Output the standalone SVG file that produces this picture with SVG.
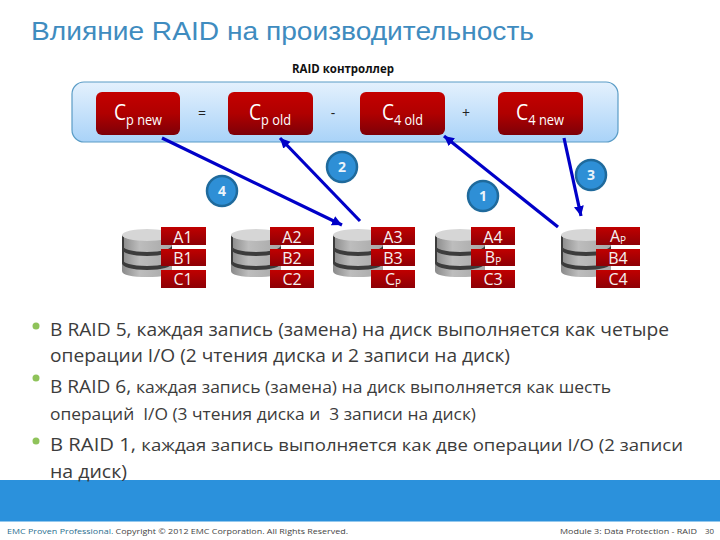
<svg xmlns="http://www.w3.org/2000/svg" width="720" height="540" viewBox="0 0 720 540">
<style>
.b{font-family:"Open Sans","Liberation Sans",sans-serif;font-size:18px;fill:#3c3c3c;white-space:pre}
.s{font-size:16.5px}
.n{font-family:"Open Sans","Liberation Sans",sans-serif;font-size:21px;fill:#fff}
.n tspan{font-size:14px}
.o{font-family:"Open Sans","Liberation Sans",sans-serif;font-size:14px;fill:#222;text-anchor:middle}
.c{font-family:"Open Sans","Liberation Sans",sans-serif;font-size:16px;fill:#f6f0f0;text-anchor:middle}
.c tspan{font-size:10px}
.d{font-family:"Open Sans","Liberation Sans",sans-serif;font-size:14px;font-weight:700;fill:#eaf4fb;text-anchor:middle}
.f{font-family:"Open Sans","Liberation Sans",sans-serif;font-size:8px;fill:#444}
.ar{stroke:#0000c8;stroke-width:3.2;fill:none;marker-end:url(#a)}
.bl{fill:url(#gb);rx:6px}
.cd{fill:url(#gc)}
.bd{fill:#2e8fd6;stroke:#1f6a9c;stroke-width:2.5}
.dot{fill:#8fc35a}
</style>
<defs>
<linearGradient id="gp" x1="0" y1="0" x2="0" y2="1"><stop offset="0" stop-color="#e4f1fd"/><stop offset="1" stop-color="#a9d3f8"/></linearGradient>
<linearGradient id="gb" x1="0" y1="0" x2="0" y2="1"><stop offset="0" stop-color="#c40000"/><stop offset="0.5" stop-color="#b00000"/><stop offset="1" stop-color="#7d0008"/></linearGradient>
<linearGradient id="gc" x1="0" y1="0" x2="0" y2="1"><stop offset="0" stop-color="#c00000"/><stop offset="1" stop-color="#8e0006"/></linearGradient>
<linearGradient id="gd" x1="0" y1="0" x2="1" y2="0"><stop offset="0" stop-color="#8a8a8a"/><stop offset="0.35" stop-color="#bdbdbd"/><stop offset="1" stop-color="#a8a8a8"/></linearGradient>
<marker id="a" markerUnits="userSpaceOnUse" markerWidth="12" markerHeight="12" refX="10" refY="5" orient="auto"><path d="M0 0L10 5L0 10z" fill="#0000c8"/></marker>
<g id="disk">
<path d="M0 6V42C0 46 10 48 25 48S50 46 50 42V6z" fill="url(#gd)"/>
<path d="M0 16C0 20 10 23 25 23S50 20 50 16V20C50 24 40 27 25 27S0 24 0 20z" fill="#3c3c3c"/>
<path d="M0 30C0 34 10 37 25 37S50 34 50 30V34C50 38 40 41 25 41S0 38 0 34z" fill="#3c3c3c"/>
<path d="M0 6V34L2 36V8z" fill="#3c3c3c"/>
<ellipse cx="25" cy="6" rx="25" ry="6" fill="#d6d6d6"/>
</g>
</defs>
<rect width="720" height="540" fill="#fff"/>
<text x="31" y="40" font-family="'Liberation Sans',sans-serif" font-size="26" fill="#3f8cbf" textLength="503" lengthAdjust="spacingAndGlyphs">Влияние RAID на производительность</text>
<text x="343" y="73" font-family="'Open Sans','Liberation Sans',sans-serif" font-size="11.5" font-weight="700" fill="#111" text-anchor="middle" textLength="102" lengthAdjust="spacingAndGlyphs">RAID контроллер</text>

<g id="controller">
<rect x="72" y="82" width="546" height="60" rx="12" fill="url(#gp)" stroke="#5a9cc6" stroke-width="1.2"/>
<text class="o" x="202" y="118">=</text>
<text class="o" x="333" y="118">-</text>
<text class="o" x="466" y="118">+</text>
</g>
<g id="cp-new"><rect class="bl" x="96" y="92" width="84" height="43"/><text class="n" x="114" y="120" textLength="48" lengthAdjust="spacingAndGlyphs">C<tspan dy="5">p new</tspan></text></g>
<g id="cp-old"><rect class="bl" x="228" y="92" width="85" height="43"/><text class="n" x="249" y="120" textLength="42" lengthAdjust="spacingAndGlyphs">C<tspan dy="5">p old</tspan></text></g>
<g id="c4-old"><rect class="bl" x="360" y="92" width="85" height="43"/><text class="n" x="382" y="120" textLength="41" lengthAdjust="spacingAndGlyphs">C<tspan dy="5">4 old</tspan></text></g>
<g id="c4-new"><rect class="bl" x="498" y="92" width="85" height="43"/><text class="n" x="516" y="120" textLength="48" lengthAdjust="spacingAndGlyphs">C<tspan dy="5">4 new</tspan></text></g>

<g id="disk-1"><use href="#disk" x="122" y="229"/><rect class="cd" x="161" y="227" width="45" height="18"/><rect class="cd" x="161" y="249" width="45" height="17"/><rect class="cd" x="161" y="270" width="45" height="18"/><text class="c" x="183" y="243">A1</text><text class="c" x="183" y="264">B1</text><text class="c" x="183" y="285">C1</text></g>
<g id="disk-2"><use href="#disk" x="231" y="229"/><rect class="cd" x="270" y="227" width="44" height="18"/><rect class="cd" x="270" y="249" width="44" height="17"/><rect class="cd" x="270" y="270" width="44" height="18"/><text class="c" x="292" y="243">A2</text><text class="c" x="292" y="264">B2</text><text class="c" x="292" y="285">C2</text></g>
<g id="disk-3"><use href="#disk" x="333" y="229"/><rect class="cd" x="371" y="227" width="44" height="18"/><rect class="cd" x="371" y="249" width="44" height="17"/><rect class="cd" x="371" y="270" width="44" height="18"/><text class="c" x="393" y="243">A3</text><text class="c" x="393" y="264">B3</text><text class="c" x="393" y="285">C<tspan dy="2">P</tspan></text></g>
<g id="disk-4"><use href="#disk" x="435" y="229"/><rect class="cd" x="471" y="227" width="44" height="18"/><rect class="cd" x="471" y="249" width="44" height="17"/><rect class="cd" x="471" y="270" width="44" height="18"/><text class="c" x="493" y="243">A4</text><text class="c" x="493" y="263">B<tspan dy="2">P</tspan></text><text class="c" x="493" y="285">C3</text></g>
<g id="disk-5"><use href="#disk" x="561" y="229"/><rect class="cd" x="596" y="227" width="44" height="18"/><rect class="cd" x="596" y="249" width="44" height="17"/><rect class="cd" x="596" y="270" width="44" height="18"/><text class="c" x="618" y="242">A<tspan dy="2">P</tspan></text><text class="c" x="618" y="264">B4</text><text class="c" x="618" y="285">C4</text></g>

<g id="connectors">
<path class="ar" d="M162 138L342 225"/>
<path class="ar" d="M360 221L280 138"/>
<path class="ar" d="M558 227L444 136"/>
<path class="ar" d="M564 138L581 216"/>
</g>

<g id="step-4"><circle class="bd" cx="222" cy="191" r="15"/><text class="d" x="222" y="196">4</text></g>
<g id="step-2"><circle class="bd" cx="342" cy="167" r="15"/><text class="d" x="342" y="172">2</text></g>
<g id="step-1"><circle class="bd" cx="483" cy="196" r="15"/><text class="d" x="483" y="201">1</text></g>
<g id="step-3"><circle class="bd" cx="591" cy="175" r="15"/><text class="d" x="591" y="180">3</text></g>

<rect x="0" y="480" width="720" height="41.500" fill="#2b91dc"/>

<circle class="dot" cx="36" cy="326" r="3.5"/>
<circle class="dot" cx="36" cy="378" r="3.5"/>
<circle class="dot" cx="36" cy="441" r="3.5"/>
<text class="b" x="50" y="336" textLength="619" lengthAdjust="spacingAndGlyphs">В RAID 5, каждая запись (замена) на диск выполняется как четыре</text>
<text class="b" x="50" y="362" textLength="460" lengthAdjust="spacingAndGlyphs">операции I/O (2 чтения диска и 2 записи на диск)</text>
<text class="b" x="50" y="393" textLength="561" lengthAdjust="spacingAndGlyphs">В RAID 6, <tspan class="s">каждая запись (замена) на диск выполняется как шесть</tspan></text>
<text class="b s" x="50" y="420" textLength="426" lengthAdjust="spacingAndGlyphs">операций  I/O (3 чтения диска и  3 записи на диск)</text>
<text class="b" x="50" y="451" textLength="633" lengthAdjust="spacingAndGlyphs">В RAID 1, <tspan class="s">каждая запись выполняется как две операции I/O (2 записи</tspan></text>
<text class="b" x="50" y="478" textLength="77" lengthAdjust="spacingAndGlyphs">на диск)</text>

<text class="f" x="7" y="534" textLength="341" lengthAdjust="spacingAndGlyphs"><tspan fill="#2a6f8f">EMC Proven Professional.</tspan> Copyright © 2012 EMC Corporation. All Rights Reserved.</text>
<text class="f" x="560" y="534" textLength="137" lengthAdjust="spacingAndGlyphs">Module 3: Data Protection - RAID</text>
<text class="f" x="705" y="534" textLength="9" lengthAdjust="spacingAndGlyphs">30</text>
</svg>
